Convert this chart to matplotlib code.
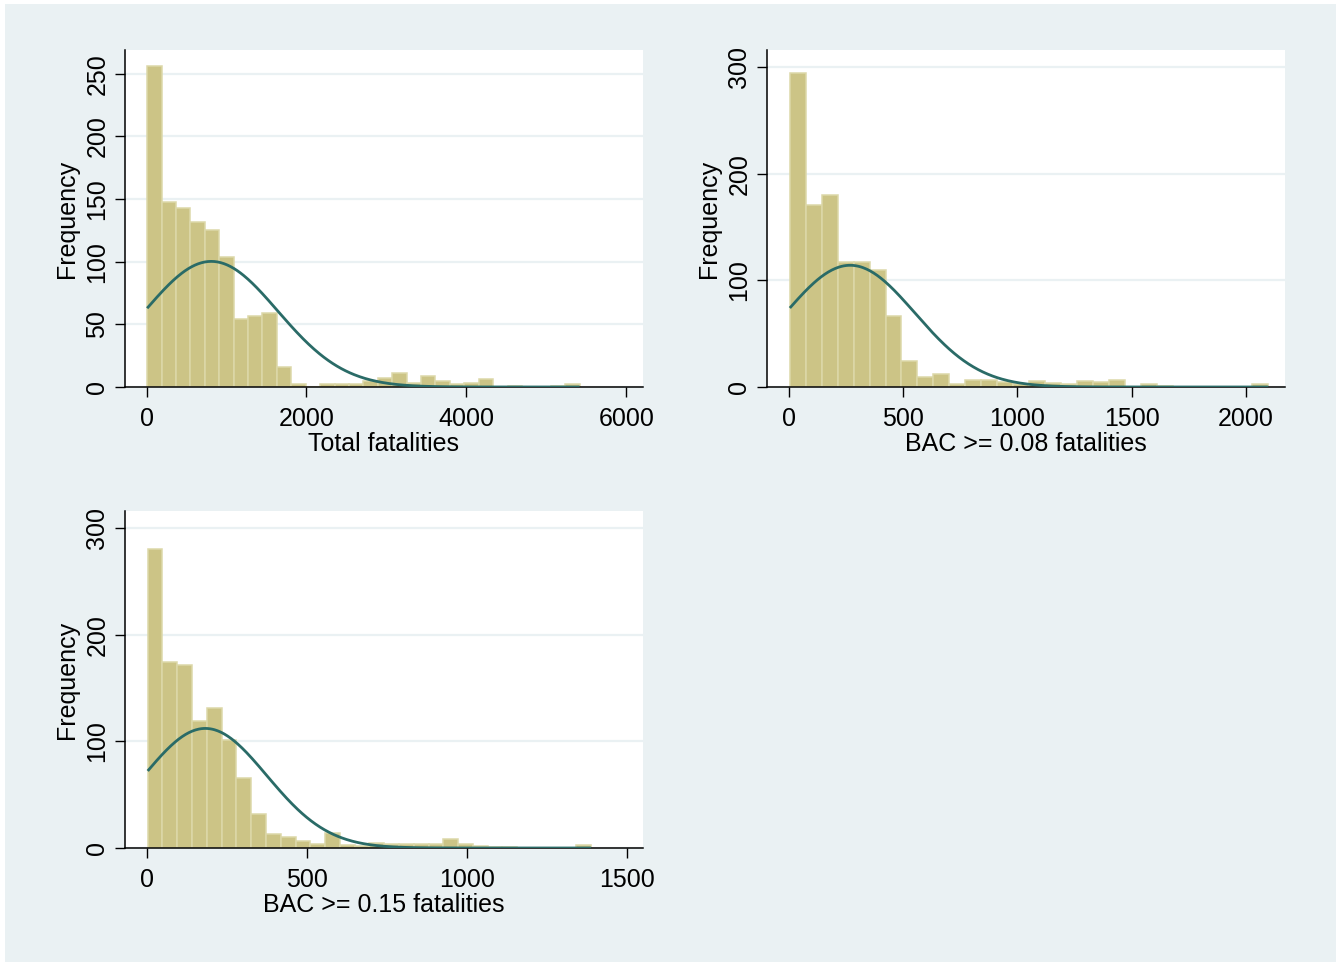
import numpy as np
import matplotlib
matplotlib.use("Agg")
import matplotlib.pyplot as plt
from matplotlib.patches import Rectangle

# ---------------- data ----------------
# Panel 1: Total fatalities (30 bins)
total_start = 8.0
total_width = 180.3
total_counts = [256, 148, 143, 132, 125, 104, 54, 57, 59, 16,
                2, 0, 2, 2, 2, 5, 7, 11, 3, 9,
                5, 2, 3, 6, 0, 1, 0, 0, 1, 2]
total_mean, total_sd = 810.0, 830.0
total_xticks = [0, 2000, 4000, 6000]
total_yticks = [0, 50, 100, 150, 200, 250]

# Panel 2: BAC >= 0.08 fatalities
bac08_start = 4.0
bac08_width = 69.8
bac08_counts = [294, 171, 180, 117, 117, 110, 67, 24, 9, 12,
                3, 7, 7, 5, 3, 6, 4, 3, 6, 5,
                7, 0, 3, 1, 0, 0, 0, 0, 0, 3]
bac08_mean, bac08_sd = 268.0, 284.0
bac08_xticks = [0, 500, 1000, 1500, 2000]
bac08_yticks = [0, 100, 200, 300]

# Panel 3: BAC >= 0.15 fatalities
bac15_start = 2.0
bac15_width = 46.2
bac15_counts = [280, 174, 172, 119, 131, 101, 66, 32, 13, 10,
                7, 4, 14, 3, 2, 5, 4, 4, 4, 4,
                8, 4, 2, 1, 1, 0, 0, 0, 0, 3]
bac15_mean, bac15_sd = 182.0, 192.0
bac15_xticks = [0, 500, 1000, 1500]
bac15_yticks = [0, 100, 200, 300]

titles = ["Total fatalities", "BAC >= 0.08 fatalities", "BAC >= 0.15 fatalities"]

# ---------------- style ----------------
plt.rcParams['font.family'] = ['Liberation Sans', 'DejaVu Sans']
BG = '#eaf1f3'
BAR = '#ccc486'
BAR_EDGE = '#dcd8a9'
CURVE = '#2a6b67'
FS = 18

W, H = 1341, 966
fig = plt.figure(figsize=(W / 100, H / 100), dpi=100)
fig.patch.set_facecolor('white')
bg_rect = Rectangle((5 / W, 4 / H), (W - 10) / W, (H - 8) / H,
                    transform=fig.transFigure, facecolor=BG,
                    edgecolor='none', zorder=-10)
fig.patches.append(bg_rect)


def make_axes(left, top, right, bottom):
    return fig.add_axes([left / W, 1 - bottom / H, (right - left) / W, (bottom - top) / H])


panels = [
    dict(box=(125, 50, 643, 387), start=total_start, width=total_width, counts=total_counts,
         mean=total_mean, sd=total_sd, xticks=total_xticks, yticks=total_yticks,
         xlim=(-269, 6210), ylim=(0, 269), title=titles[0]),
    dict(box=(767, 50, 1285, 387), start=bac08_start, width=bac08_width, counts=bac08_counts,
         mean=bac08_mean, sd=bac08_sd, xticks=bac08_xticks, yticks=bac08_yticks,
         xlim=(-96, 2171), ylim=(0, 316), title=titles[1]),
    dict(box=(125, 511, 643, 848), start=bac15_start, width=bac15_width, counts=bac15_counts,
         mean=bac15_mean, sd=bac15_sd, xticks=bac15_xticks, yticks=bac15_yticks,
         xlim=(-69, 1550), ylim=(0, 316), title=titles[2]),
]

for p in panels:
    ax = make_axes(*p['box'])
    ax.set_zorder(1)
    ax.set_facecolor('white')
    counts = np.array(p['counts'], dtype=float)
    n = len(counts)
    edges = p['start'] + p['width'] * np.arange(n + 1)
    ax.bar(edges[:-1], counts, width=p['width'], align='edge', color=BAR,
           edgecolor=BAR_EDGE, linewidth=1.1, zorder=2)
    # fitted normal density scaled to frequency
    N = counts.sum()
    xs = np.linspace(edges[0], edges[-1], 400)
    ys = N * p['width'] * np.exp(-0.5 * ((xs - p['mean']) / p['sd']) ** 2) / (p['sd'] * np.sqrt(2 * np.pi))
    ax.plot(xs, ys, color=CURVE, linewidth=2.0, zorder=3, solid_capstyle='butt')

    ax.set_xlim(*p['xlim'])
    ax.set_ylim(*p['ylim'])
    ax.set_xticks(p['xticks'])
    ax.set_yticks(p['yticks'])
    ax.yaxis.grid(True, color=BG, linewidth=1.6, zorder=1)
    ax.set_axisbelow(True)
    for s in ['top', 'right']:
        ax.spines[s].set_visible(False)
    for s in ['left', 'bottom']:
        ax.spines[s].set_color('black')
        ax.spines[s].set_linewidth(1.1)
    ax.tick_params(axis='both', length=7.5, width=1.0, color='black', labelsize=FS, pad=6.7)
    ax.tick_params(axis='y', labelrotation=90, pad=3.7)
    for lab in ax.get_yticklabels():
        lab.set_va('center')
    ax.annotate('Frequency', xy=(0, 0.5), xycoords='axes fraction', xytext=(-58, 0),
                textcoords='offset pixels', rotation=90, ha='center', va='center', fontsize=FS)
    ax.annotate(p['title'], xy=(0.5, 0), xycoords='axes fraction', xytext=(0, -45),
                textcoords='offset pixels', ha='center', va='top', fontsize=FS)

fig.savefig('out.png', dpi=100, facecolor=fig.get_facecolor())
